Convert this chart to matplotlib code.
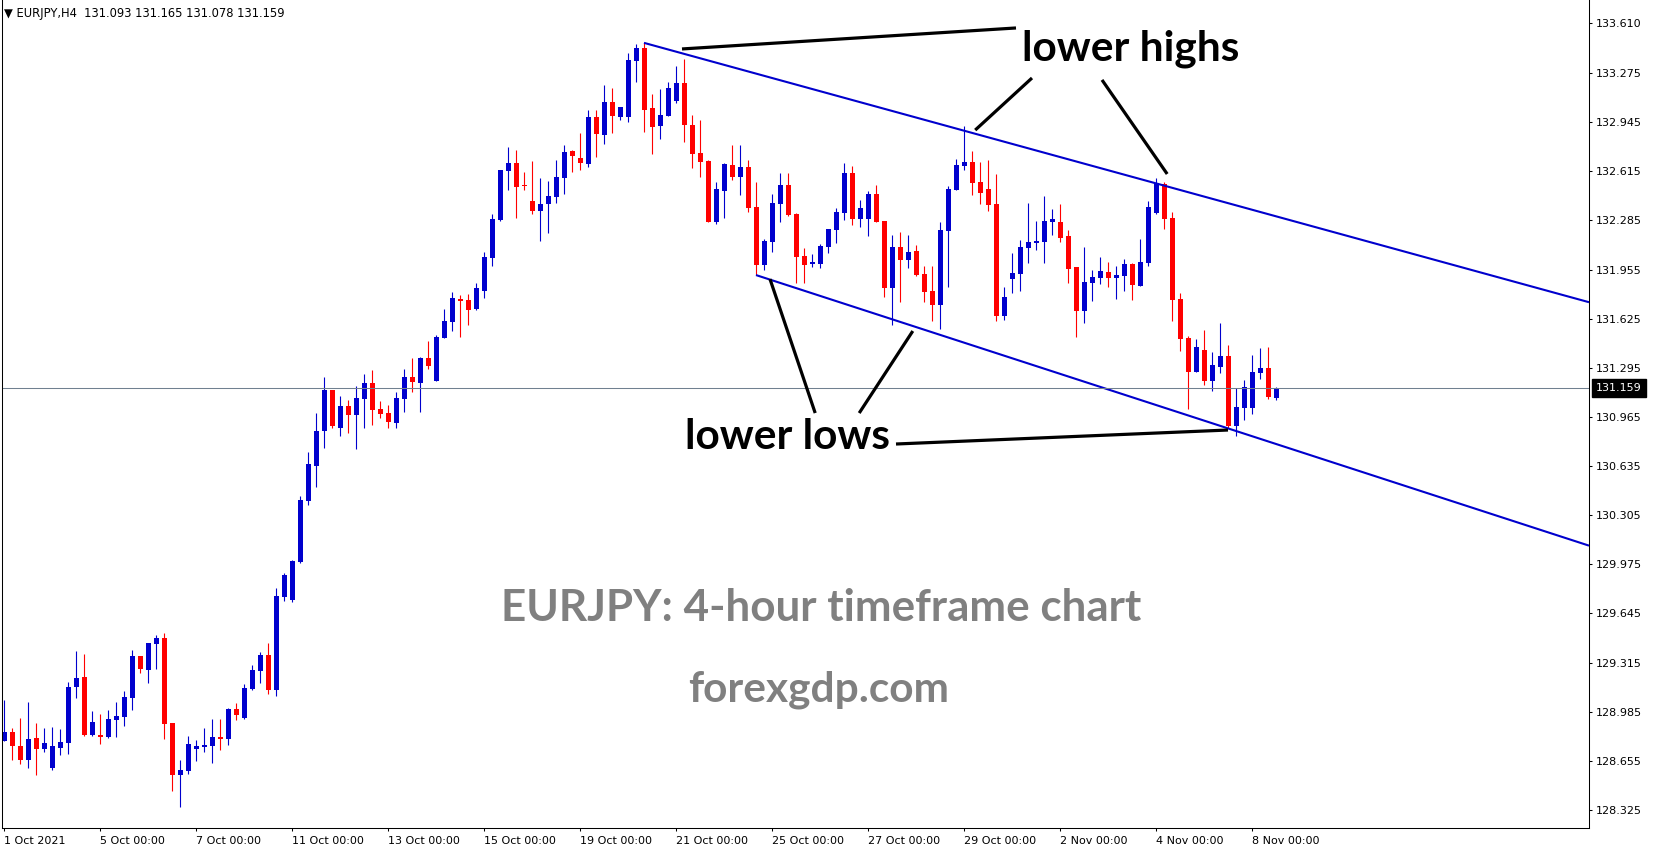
import matplotlib
matplotlib.use('Agg')
import matplotlib.pyplot as plt
import matplotlib.transforms as mtransforms
import numpy as np

# EURJPY H4 candles, 1 Oct 2021 .. 8 Nov 2021
opens = [128.790, 128.848, 128.754, 128.660, 128.808, 128.736, 128.608, 128.743, 128.776, 129.153,
         129.218, 128.828, 128.822, 128.817, 128.929, 128.951, 129.079, 129.359, 129.267, 129.441,
         129.480, 128.908, 128.561, 128.588, 128.736, 128.750, 128.756, 128.815, 128.803, 129.003,
         128.945, 129.137, 129.261, 129.366, 129.133, 129.758, 129.738, 129.991, 130.403, 130.638,
         130.873, 131.146, 130.893, 131.038, 130.980, 131.088, 131.193, 131.018, 130.991, 130.926,
         131.088, 131.233, 131.195, 131.361, 131.208, 131.495, 131.605, 131.757, 131.750, 131.690,
         131.813, 132.035, 132.288, 132.619, 132.671, 132.517, 132.415, 132.351, 132.398, 132.442,
         132.570, 132.752, 132.704, 132.664, 132.980, 132.859, 133.081, 132.980, 132.980, 133.356,
         133.443, 133.040, 132.919, 132.987, 133.087, 133.208, 132.926, 132.738, 132.684, 132.277,
         132.483, 132.657, 132.579, 132.644, 132.375, 131.986, 132.140, 132.398, 132.523, 132.328,
         132.046, 131.992, 131.994, 132.109, 132.223, 132.335, 132.604, 132.297, 132.297, 132.463,
         132.283, 131.833, 132.106, 132.021, 132.080, 131.925, 131.811, 131.719, 132.216, 132.489,
         132.653, 132.678, 132.543, 132.496, 132.395, 131.645, 131.894, 131.927, 132.102, 132.136,
         132.142, 132.277, 132.274, 132.180, 131.972, 131.679, 131.867, 131.900, 131.939, 131.900,
         131.914, 131.992, 131.847, 132.001, 132.337, 132.530, 132.301, 131.757, 131.495, 131.269,
         131.415, 131.209, 131.303, 131.374, 130.906, 131.027, 131.027, 131.262, 131.294, 131.093]
highs = [129.063, 128.877, 128.944, 129.050, 128.908, 128.875, 128.882, 128.868, 129.184, 129.392,
         129.372, 128.989, 128.969, 128.996, 129.050, 129.123, 129.399, 129.359, 129.446, 129.500,
         129.513, 128.908, 128.660, 128.821, 128.794, 128.875, 128.936, 128.936, 129.009, 129.043,
         129.171, 129.299, 129.386, 129.446, 129.816, 129.917, 130.004, 130.434, 130.730, 130.992,
         131.233, 131.146, 131.106, 131.079, 131.173, 131.253, 131.280, 131.072, 131.045, 131.132,
         131.287, 131.361, 131.368, 131.475, 131.515, 131.690, 131.804, 131.784, 131.791, 131.865,
         132.073, 132.328, 132.624, 132.778, 132.758, 132.610, 132.684, 132.570, 132.550, 132.691,
         132.792, 132.758, 132.872, 133.027, 133.027, 133.195, 133.175, 133.047, 133.410, 133.470,
         133.478, 133.134, 133.168, 133.215, 133.322, 133.369, 132.993, 132.960, 132.690, 132.543,
         132.671, 132.792, 132.792, 132.691, 132.543, 132.160, 132.463, 132.604, 132.604, 132.335,
         132.100, 132.059, 132.127, 132.227, 132.368, 132.671, 132.651, 132.422, 132.483, 132.523,
         132.283, 132.187, 132.207, 132.187, 132.120, 131.979, 131.979, 132.275, 132.516, 132.698,
         132.919, 132.751, 132.678, 132.691, 132.597, 131.838, 132.066, 132.154, 132.402, 132.281,
         132.449, 132.362, 132.395, 132.221, 131.972, 132.106, 131.952, 132.039, 132.006, 131.979,
         132.026, 131.999, 132.160, 132.416, 132.570, 132.543, 132.342, 131.797, 131.509, 131.488,
         131.549, 131.401, 131.596, 131.448, 131.159, 131.213, 131.381, 131.428, 131.435, 131.165]
lows = [128.790, 128.660, 128.635, 128.608, 128.561, 128.716, 128.595, 128.696, 128.702, 129.079,
        128.823, 128.823, 128.770, 128.810, 128.817, 128.891, 128.998, 129.247, 129.179, 129.274,
        128.803, 128.452, 128.347, 128.568, 128.656, 128.716, 128.642, 128.730, 128.763, 128.931,
        128.934, 129.131, 129.180, 129.106, 129.093, 129.731, 129.724, 129.984, 130.376, 130.497,
        130.759, 130.893, 130.839, 130.859, 130.752, 130.893, 130.913, 130.960, 130.893, 130.893,
        131.000, 131.135, 131.000, 131.289, 131.208, 131.495, 131.544, 131.502, 131.585, 131.683,
        131.766, 131.981, 132.283, 132.489, 132.304, 132.492, 132.331, 132.150, 132.200, 132.402,
        132.463, 132.610, 132.624, 132.644, 132.711, 132.798, 132.872, 132.960, 132.946, 133.215,
        132.879, 132.731, 132.832, 132.987, 133.074, 132.812, 132.637, 132.577, 132.277, 132.263,
        132.301, 132.557, 132.456, 132.344, 131.918, 131.952, 132.073, 132.274, 132.317, 131.865,
        131.865, 131.972, 131.965, 132.068, 132.136, 132.288, 132.256, 132.243, 132.180, 132.277,
        131.773, 131.582, 131.739, 131.968, 131.914, 131.739, 131.612, 131.558, 131.840, 132.489,
        132.626, 132.458, 132.398, 132.351, 131.612, 131.618, 131.800, 131.813, 132.001, 132.086,
        132.001, 132.187, 132.142, 131.867, 131.500, 131.598, 131.746, 131.860, 131.840, 131.759,
        131.813, 131.753, 131.847, 131.981, 132.330, 132.230, 131.612, 131.410, 131.020, 131.269,
        131.182, 131.141, 131.262, 130.888, 130.839, 130.947, 130.987, 131.222, 131.088, 131.078]
closes = [128.850, 128.756, 128.660, 128.801, 128.736, 128.774, 128.754, 128.781, 129.150, 129.211,
          128.828, 128.915, 128.818, 128.935, 128.955, 129.083, 129.359, 129.274, 129.446, 129.480,
          128.904, 128.561, 128.593, 128.768, 128.754, 128.761, 128.815, 128.803, 129.003, 128.965,
          129.144, 129.265, 129.366, 129.133, 129.762, 129.903, 129.997, 130.407, 130.649, 130.871,
          131.146, 130.906, 131.039, 130.980, 131.092, 131.193, 131.014, 130.987, 130.933, 131.092,
          131.233, 131.202, 131.361, 131.309, 131.502, 131.609, 131.764, 131.744, 131.685, 131.831,
          132.039, 132.295, 132.624, 132.671, 132.512, 132.513, 132.351, 132.395, 132.449, 132.577,
          132.745, 132.718, 132.671, 132.980, 132.866, 133.081, 132.987, 133.047, 133.363, 133.443,
          133.027, 132.913, 132.993, 133.175, 133.208, 132.926, 132.731, 132.680, 132.277, 132.496,
          132.664, 132.579, 132.644, 132.371, 131.986, 132.147, 132.402, 132.523, 132.324, 132.042,
          131.986, 132.006, 132.113, 132.227, 132.342, 132.604, 132.297, 132.368, 132.463, 132.277,
          131.833, 132.106, 132.021, 132.073, 131.921, 131.806, 131.719, 132.221, 132.496, 132.657,
          132.678, 132.539, 132.472, 132.391, 131.645, 131.771, 131.932, 132.109, 132.140, 132.147,
          132.281, 132.295, 132.169, 131.961, 131.679, 131.871, 131.905, 131.945, 131.900, 131.918,
          131.992, 131.853, 132.006, 132.375, 132.536, 132.297, 131.753, 131.491, 131.269, 131.435,
          131.209, 131.314, 131.374, 130.906, 131.032, 131.166, 131.267, 131.294, 131.101, 131.159]

date_pos = [0, 12, 24, 36, 48, 60, 72, 84, 96, 108, 120, 132, 144, 156]
date_labels = ['1 Oct 2021', '5 Oct 00:00', '7 Oct 00:00', '11 Oct 00:00', '13 Oct 00:00',
               '15 Oct 00:00', '19 Oct 00:00', '21 Oct 00:00', '25 Oct 00:00', '27 Oct 00:00',
               '29 Oct 00:00', '2 Nov 00:00', '4 Nov 00:00', '8 Nov 00:00']
price_ticks = [133.610, 133.275, 132.945, 132.615, 132.285, 131.955, 131.625, 131.295, 130.965,
               130.635, 130.305, 129.975, 129.645, 129.315, 128.985, 128.655, 128.325]
last_price = 131.159

# trend channel anchors (candle index, price)
upper_pts = [(80, 133.478), (144, 132.534)]
lower_pts = [(94, 131.918), (153, 130.888)]

# hand drawn pointer lines
pointer_lines = [
    ((84.75, 133.437), (126.5, 133.578)),
    ((128.5, 133.242), (121.4, 132.892)),
    ((137.25, 133.229), (145.4, 132.597)),
    ((101.4, 130.991), (95.75, 131.891)),
    ((106.9, 130.991), (113.6, 131.542)),
    ((111.5, 130.783), (153.0, 130.877)),
]

bull = '#0000CD'
bear = '#FF0000'

fig = plt.figure(figsize=(16.53, 8.5), dpi=100)
ax = fig.add_axes([2 / 1653, 22 / 850, 1587 / 1653, 828 / 850])

o = np.array(opens)
h = np.array(highs)
l = np.array(lows)
c = np.array(closes)
x = np.arange(len(o))
cols = np.where(c >= o, bull, bear)

ax.vlines(x, l, h, colors=cols, lw=0.8)
body = np.maximum(np.abs(c - o), 0.007)
ax.bar(x, body, bottom=np.minimum(o, c), width=0.625, color=cols, linewidth=0)

xmin, xmax = -0.25, 198.125
ymin, ymax = 128.2033, 133.7659

# channel lines
for pts in (upper_pts, lower_pts):
    (x1, y1), (x2, y2) = pts
    k = (y2 - y1) / (x2 - x1)
    ax.plot([x1, xmax], [y1, y1 + k * (xmax - x1)], color=bull, lw=1.5, solid_capstyle='butt')

# last price line
ax.axhline(last_price, color='#708090', lw=0.75)

for (x1, y1), (x2, y2) in pointer_lines:
    ax.plot([x1, x2], [y1, y2], color='black', lw=2.3, solid_capstyle='butt')

big = ['Lato', 'DejaVu Sans']
ax.text(140.8, 133.36, 'lower highs', ha='center', va='baseline', fontsize=30.5,
        fontweight='bold', family=big, color='black')
ax.text(97.9, 130.75, 'lower lows', ha='center', va='baseline', fontsize=30.5,
        fontweight='bold', family=big, color='black')
ax.text(102.2, 129.594, 'EURJPY: 4-hour timeframe chart', ha='center', va='baseline',
        fontsize=31.7, fontweight='bold', family=big, color='#808080')
ax.text(101.8, 129.05, 'forexgdp.com', ha='center', va='baseline', fontsize=30.5,
        fontweight='bold', family=big, color='#808080')

ax.set_xlim(xmin, xmax)
ax.set_ylim(ymin, ymax)

ax.yaxis.tick_right()
ax.set_yticks(price_ticks)
ax.set_yticklabels(['%.3f' % p for p in price_ticks])
ax.set_xticks(date_pos)
ax.set_xticklabels(date_labels, ha='left')
ax.tick_params(axis='y', length=2.2, width=0.75, pad=2.9, labelsize=8, colors='black')
ax.tick_params(axis='x', length=2.5, width=0.75, pad=3, labelsize=8, colors='black')

for s in ('left', 'bottom', 'right'):
    ax.spines[s].set_linewidth(0.75)
    ax.spines[s].set_color('black')
ax.spines['top'].set_visible(False)

# current price box on the price scale
trans = mtransforms.blended_transform_factory(ax.transAxes, ax.transData)
ax.text(1.0045, last_price, '%.3f' % last_price, transform=trans, ha='left', va='center',
        fontsize=8, color='white', clip_on=False,
        bbox=dict(boxstyle='square,pad=0.35', fc='black', ec='black'))

fig.text(4 / 1653, 1 - 13 / 850, '\u25bc EURJPY,H4  131.093 131.165 131.078 131.159',
         ha='left', va='center', fontsize=8.3, color='black')

fig.savefig('out.png', dpi=100)
